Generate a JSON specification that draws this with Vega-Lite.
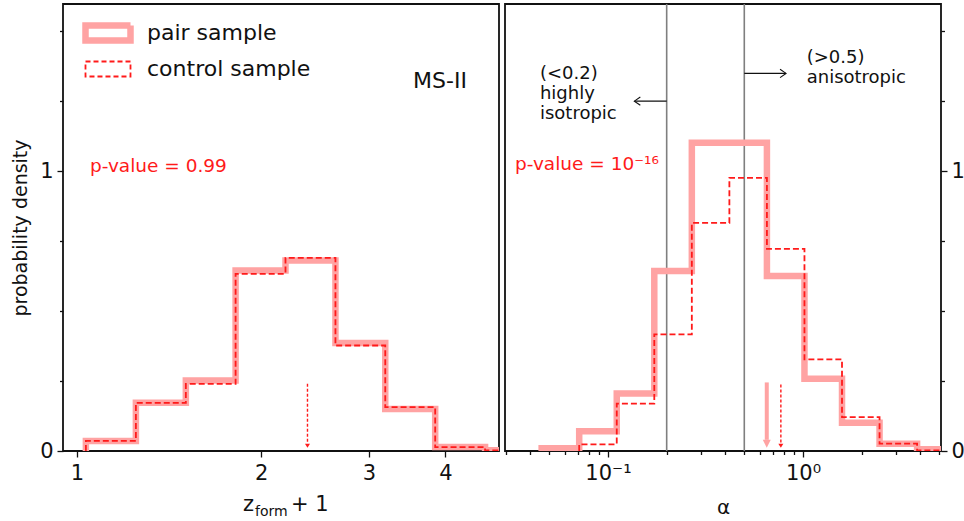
{
  "$schema": "https://vega.github.io/schema/vega-lite/v6.json",
  "padding": {"left": 10, "top": 2, "right": 0, "bottom": 0},
  "background": "white",
  "spacing": 4,
  "config": {
    "view": {"stroke": "#111", "strokeWidth": 1.8},
    "font": "DejaVu Sans",
    "axis": {"grid": false, "domain": false, "tickColor": "#111", "tickWidth": 1.3, "labelColor": "#111", "titleColor": "#111", "labelFont": "DejaVu Sans", "titleFont": "DejaVu Sans", "labelFontSize": 21, "titleFontWeight": "normal"},
    "legend": {"padding": 0}
  },
  "datasets": {
    "zform": [
      {"sample": "pair sample", "i": 0, "edge": 1.034, "density": 0},
      {"sample": "pair sample", "i": 1, "edge": 1.034, "density": 0.036},
      {"sample": "pair sample", "i": 2, "edge": 1.248, "density": 0.172},
      {"sample": "pair sample", "i": 3, "edge": 1.506, "density": 0.252},
      {"sample": "pair sample", "i": 4, "edge": 1.816, "density": 0.645},
      {"sample": "pair sample", "i": 5, "edge": 2.191, "density": 0.681},
      {"sample": "pair sample", "i": 6, "edge": 2.644, "density": 0.386},
      {"sample": "pair sample", "i": 7, "edge": 3.189, "density": 0.150},
      {"sample": "pair sample", "i": 8, "edge": 3.848, "density": 0.014},
      {"sample": "pair sample", "i": 9, "edge": 4.642, "density": 0.0025},
      {"sample": "pair sample", "i": 10, "edge": 5.600, "density": 0},
      {"sample": "control sample", "i": 0, "edge": 1.034, "density": 0},
      {"sample": "control sample", "i": 1, "edge": 1.034, "density": 0.036},
      {"sample": "control sample", "i": 2, "edge": 1.248, "density": 0.172},
      {"sample": "control sample", "i": 3, "edge": 1.506, "density": 0.240},
      {"sample": "control sample", "i": 4, "edge": 1.816, "density": 0.633},
      {"sample": "control sample", "i": 5, "edge": 2.191, "density": 0.690},
      {"sample": "control sample", "i": 6, "edge": 2.644, "density": 0.377},
      {"sample": "control sample", "i": 7, "edge": 3.189, "density": 0.157},
      {"sample": "control sample", "i": 8, "edge": 3.848, "density": 0.014},
      {"sample": "control sample", "i": 9, "edge": 4.642, "density": 0.0025},
      {"sample": "control sample", "i": 10, "edge": 5.600, "density": 0}
    ],
    "alpha": [
      {"sample": "pair sample", "i": 0, "edge": 0.04571, "density": 0},
      {"sample": "pair sample", "i": 1, "edge": 0.04571, "density": 0.010},
      {"sample": "pair sample", "i": 2, "edge": 0.07120, "density": 0.071},
      {"sample": "pair sample", "i": 3, "edge": 0.11092, "density": 0.205},
      {"sample": "pair sample", "i": 4, "edge": 0.17278, "density": 0.643},
      {"sample": "pair sample", "i": 5, "edge": 0.26915, "density": 1.101},
      {"sample": "pair sample", "i": 6, "edge": 0.41929, "density": 1.101},
      {"sample": "pair sample", "i": 7, "edge": 0.65313, "density": 0.625},
      {"sample": "pair sample", "i": 8, "edge": 1.0174, "density": 0.258},
      {"sample": "pair sample", "i": 9, "edge": 1.5849, "density": 0.101},
      {"sample": "pair sample", "i": 10, "edge": 2.4689, "density": 0.026},
      {"sample": "pair sample", "i": 11, "edge": 3.8459, "density": 0.006},
      {"sample": "pair sample", "i": 12, "edge": 5.991, "density": 0},
      {"sample": "control sample", "i": 0, "edge": 0.07120, "density": 0},
      {"sample": "control sample", "i": 1, "edge": 0.07120, "density": 0.024},
      {"sample": "control sample", "i": 2, "edge": 0.11092, "density": 0.169},
      {"sample": "control sample", "i": 3, "edge": 0.17278, "density": 0.417},
      {"sample": "control sample", "i": 4, "edge": 0.26915, "density": 0.815},
      {"sample": "control sample", "i": 5, "edge": 0.41929, "density": 0.976},
      {"sample": "control sample", "i": 6, "edge": 0.65313, "density": 0.722},
      {"sample": "control sample", "i": 7, "edge": 1.0174, "density": 0.327},
      {"sample": "control sample", "i": 8, "edge": 1.5849, "density": 0.121},
      {"sample": "control sample", "i": 9, "edge": 2.4689, "density": 0.026},
      {"sample": "control sample", "i": 10, "edge": 3.8459, "density": 0.002},
      {"sample": "control sample", "i": 11, "edge": 5.991, "density": 0}
    ]
  },
  "hconcat": [
    {
      "width": 436,
      "height": 447,
      "layer": [
        {
          "data": {"name": "zform"},
          "transform": [{"filter": "datum.sample === 'pair sample'"}],
          "mark": {"type": "line", "interpolate": "step-after", "strokeWidth": 6.5, "clip": true, "strokeJoin": "miter"},
          "encoding": {
            "x": {"field": "edge", "type": "quantitative", "scale": {"type": "log", "domain": [0.9487, 4.892], "nice": false},
                  "axis": {"values": [1, 2, 3, 4], "labelExpr": "format(datum.value, 'd')", "title": null, "tickSize": 6, "labelPadding": 5}},
            "y": {"field": "density", "type": "quantitative", "scale": {"domain": [0, 1.597], "nice": false},
                  "axis": {"values": [0, 0.25, 0.5, 0.75, 1, 1.25, 1.5], "labelExpr": "datum.value === 0 ? '0' : datum.value === 1 ? '1' : ''",
                           "title": "probability density", "titleFontSize": 19, "titlePadding": 9,
                           "tickSize": {"condition": {"test": "datum.value === 0 || datum.value === 1", "value": 6}, "value": 3.5}, "labelPadding": 4}},
            "order": {"field": "i", "type": "quantitative"},
            "color": {"field": "sample", "type": "nominal",
                      "scale": {"domain": ["pair sample", "control sample"], "range": ["#ffa3a3", "#ff1a1a"]},
                      "legend": {"orient": "none", "legendX": 34, "legendY": 18, "title": null,
                                 "symbolType": "M-1,-0.333H1V0.333H-1Z", "symbolSize": 2025, "symbolFillColor": "transparent",
                                 "labelFontSize": 22, "labelFont": "DejaVu Sans", "labelColor": "#111", "labelOffset": 28, "labelLimit": 400, "rowPadding": 3,
                                 "encode": {"symbols": {"update": {
                                   "strokeWidth": {"signal": "datum.value === 'pair sample' ? 6.5 : 1.8"},
                                   "strokeDash": {"signal": "datum.value === 'pair sample' ? [1, 0] : [5, 3]"}}}}}}
          }
        },
        {
          "data": {"name": "zform"},
          "transform": [{"filter": "datum.sample === 'control sample'"}],
          "mark": {"type": "line", "interpolate": "step-after", "strokeWidth": 1.8, "strokeDash": [6, 3], "clip": true},
          "encoding": {
            "x": {"field": "edge", "type": "quantitative"},
            "y": {"field": "density", "type": "quantitative"},
            "order": {"field": "i", "type": "quantitative"},
            "color": {"field": "sample", "type": "nominal"}
          }
        },
        {
          "data": {"values": [{}]},
          "mark": {"type": "rule", "color": "#ff1a1a", "strokeWidth": 1.4, "strokeDash": [3, 2]},
          "encoding": {
            "x": {"datum": 2.38, "type": "quantitative"},
            "y": {"datum": 0.24, "type": "quantitative"},
            "y2": {"datum": 0.03}
          }
        },
        {
          "data": {"values": [{}]},
          "mark": {"type": "point", "shape": "M-1,-1.6L0,0L1,-1.6Z", "size": 25, "filled": true, "color": "#ff1a1a", "opacity": 1},
          "encoding": {
            "x": {"datum": 2.38, "type": "quantitative"},
            "y": {"datum": 0.012, "type": "quantitative"}
          }
        },
        {
          "data": {"values": [{}]},
          "mark": {"type": "text", "align": "left", "baseline": "middle", "fontSize": 18.5, "color": "#ff1a1a", "text": "p-value = 0.99"},
          "encoding": {
            "x": {"datum": 1.05, "type": "quantitative"},
            "y": {"datum": 1.018, "type": "quantitative"}
          }
        },
        {
          "data": {"values": [{}]},
          "mark": {"type": "text", "align": "left", "baseline": "middle", "fontSize": 22, "color": "#111", "text": "MS-II"},
          "encoding": {
            "x": {"datum": 3.54, "type": "quantitative"},
            "y": {"datum": 1.321, "type": "quantitative"}
          }
        },
        {
          "data": {"values": [{}]},
          "mark": {"type": "text", "align": "left", "baseline": "alphabetic", "fontSize": 21, "color": "#111", "text": "z", "dx": -38},
          "encoding": {
            "x": {"datum": 2.154, "type": "quantitative"},
            "y": {"datum": -0.2143, "type": "quantitative"}
          }
        },
        {
          "data": {"values": [{}]},
          "mark": {"type": "text", "align": "left", "baseline": "alphabetic", "fontSize": 14, "color": "#111", "text": "form", "dx": -26, "dy": 5},
          "encoding": {
            "x": {"datum": 2.154, "type": "quantitative"},
            "y": {"datum": -0.2143, "type": "quantitative"}
          }
        },
        {
          "data": {"values": [{}]},
          "mark": {"type": "text", "align": "left", "baseline": "alphabetic", "fontSize": 21, "color": "#111", "text": "+ 1", "dx": 10},
          "encoding": {
            "x": {"datum": 2.154, "type": "quantitative"},
            "y": {"datum": -0.2143, "type": "quantitative"}
          }
        }
      ]
    },
    {
      "width": 436,
      "height": 447,
      "layer": [
        {
          "data": {"values": [{"threshold": 0.2}, {"threshold": 0.5}]},
          "mark": {"type": "rule", "color": "#7f7f7f", "strokeWidth": 1.6},
          "encoding": {
            "x": {"field": "threshold", "type": "quantitative", "scale": {"type": "log", "domain": [0.02965, 5.10], "nice": false},
                  "axis": {"values": [0.03, 0.04, 0.05, 0.06, 0.07, 0.08, 0.09, 0.1, 0.2, 0.3, 0.4, 0.5, 0.6, 0.7, 0.8, 0.9, 1, 2, 3, 4, 5],
                           "labelExpr": "datum.value === 0.1 ? '10⁻¹' : datum.value === 1 ? '10⁰' : ''",
                           "tickSize": {"condition": {"test": "datum.value === 0.1 || datum.value === 1", "value": 6}, "value": 3.5},
                           "labelPadding": 5, "title": "α", "titleFontSize": 20, "titlePadding": 14}}
          }
        },
        {
          "data": {"name": "alpha"},
          "transform": [{"filter": "datum.sample === 'pair sample'"}],
          "mark": {"type": "line", "interpolate": "step-after", "strokeWidth": 6.5, "clip": true, "strokeJoin": "miter"},
          "encoding": {
            "x": {"field": "edge", "type": "quantitative"},
            "y": {"field": "density", "type": "quantitative", "scale": {"domain": [0, 1.597], "nice": false},
                  "axis": {"orient": "right", "values": [0, 0.25, 0.5, 0.75, 1, 1.25, 1.5], "labelExpr": "datum.value === 0 ? '0' : datum.value === 1 ? '1' : ''",
                           "title": null, "tickSize": {"condition": {"test": "datum.value === 0 || datum.value === 1", "value": 6}, "value": 3.5}, "labelPadding": 4}},
            "order": {"field": "i", "type": "quantitative"},
            "color": {"field": "sample", "type": "nominal"}
          }
        },
        {
          "data": {"name": "alpha"},
          "transform": [{"filter": "datum.sample === 'control sample'"}],
          "mark": {"type": "line", "interpolate": "step-after", "strokeWidth": 1.8, "strokeDash": [6, 3], "clip": true},
          "encoding": {
            "x": {"field": "edge", "type": "quantitative"},
            "y": {"field": "density", "type": "quantitative"},
            "order": {"field": "i", "type": "quantitative"},
            "color": {"field": "sample", "type": "nominal"}
          }
        },
        {
          "data": {"values": [{}]},
          "mark": {"type": "rule", "color": "#ffa3a3", "strokeWidth": 4},
          "encoding": {
            "x": {"datum": 0.652, "type": "quantitative"},
            "y": {"datum": 0.245, "type": "quantitative"},
            "y2": {"datum": 0.04}
          }
        },
        {
          "data": {"values": [{}]},
          "mark": {"type": "point", "shape": "M-1,-2L0,0L1,-2Z", "size": 64, "filled": true, "color": "#ffa3a3", "opacity": 1},
          "encoding": {
            "x": {"datum": 0.652, "type": "quantitative"},
            "y": {"datum": 0.012, "type": "quantitative"}
          }
        },
        {
          "data": {"values": [{}]},
          "mark": {"type": "rule", "color": "#ff1a1a", "strokeWidth": 1.4, "strokeDash": [3, 2]},
          "encoding": {
            "x": {"datum": 0.77, "type": "quantitative"},
            "y": {"datum": 0.238, "type": "quantitative"},
            "y2": {"datum": 0.03}
          }
        },
        {
          "data": {"values": [{}]},
          "mark": {"type": "point", "shape": "M-1,-1.6L0,0L1,-1.6Z", "size": 25, "filled": true, "color": "#ff1a1a", "opacity": 1},
          "encoding": {
            "x": {"datum": 0.77, "type": "quantitative"},
            "y": {"datum": 0.012, "type": "quantitative"}
          }
        },
        {
          "data": {"values": [{}]},
          "mark": {"type": "text", "align": "left", "baseline": "middle", "fontSize": 18, "lineHeight": 20, "color": "#111", "text": ["(<0.2)", "highly", "isotropic"]},
          "encoding": {
            "x": {"datum": 0.0448, "type": "quantitative"},
            "y": {"datum": 1.346, "type": "quantitative"}
          }
        },
        {
          "data": {"values": [{}]},
          "mark": {"type": "text", "align": "left", "baseline": "middle", "fontSize": 18, "lineHeight": 20, "color": "#111", "text": ["(>0.5)", "anisotropic"]},
          "encoding": {
            "x": {"datum": 1.0446, "type": "quantitative"},
            "y": {"datum": 1.404, "type": "quantitative"}
          }
        },
        {
          "data": {"values": [{}]},
          "mark": {"type": "text", "align": "left", "baseline": "middle", "fontSize": 18.5, "color": "#ff1a1a", "text": "p-value = 10⁻¹⁶"},
          "encoding": {
            "x": {"datum": 0.03335, "type": "quantitative"},
            "y": {"datum": 1.025, "type": "quantitative"}
          }
        },
        {
          "data": {"values": [{}]},
          "mark": {"type": "rule", "color": "#111", "strokeWidth": 1.1},
          "encoding": {
            "x": {"datum": 0.2, "type": "quantitative"},
            "x2": {"datum": 0.137},
            "y": {"datum": 1.25, "type": "quantitative"}
          }
        },
        {
          "data": {"values": [{}]},
          "mark": {"type": "point", "shape": "M1,-0.7L0,0L1,0.7", "size": 144, "filled": false, "color": "#111", "strokeWidth": 1.1, "opacity": 1},
          "encoding": {
            "x": {"datum": 0.1365, "type": "quantitative"},
            "y": {"datum": 1.25, "type": "quantitative"}
          }
        },
        {
          "data": {"values": [{}]},
          "mark": {"type": "rule", "color": "#111", "strokeWidth": 1.1},
          "encoding": {
            "x": {"datum": 0.5, "type": "quantitative"},
            "x2": {"datum": 0.818},
            "y": {"datum": 1.349, "type": "quantitative"}
          }
        },
        {
          "data": {"values": [{}]},
          "mark": {"type": "point", "shape": "M-1,-0.7L0,0L-1,0.7", "size": 144, "filled": false, "color": "#111", "strokeWidth": 1.1, "opacity": 1},
          "encoding": {
            "x": {"datum": 0.8185, "type": "quantitative"},
            "y": {"datum": 1.349, "type": "quantitative"}
          }
        }
      ]
    }
  ]
}
